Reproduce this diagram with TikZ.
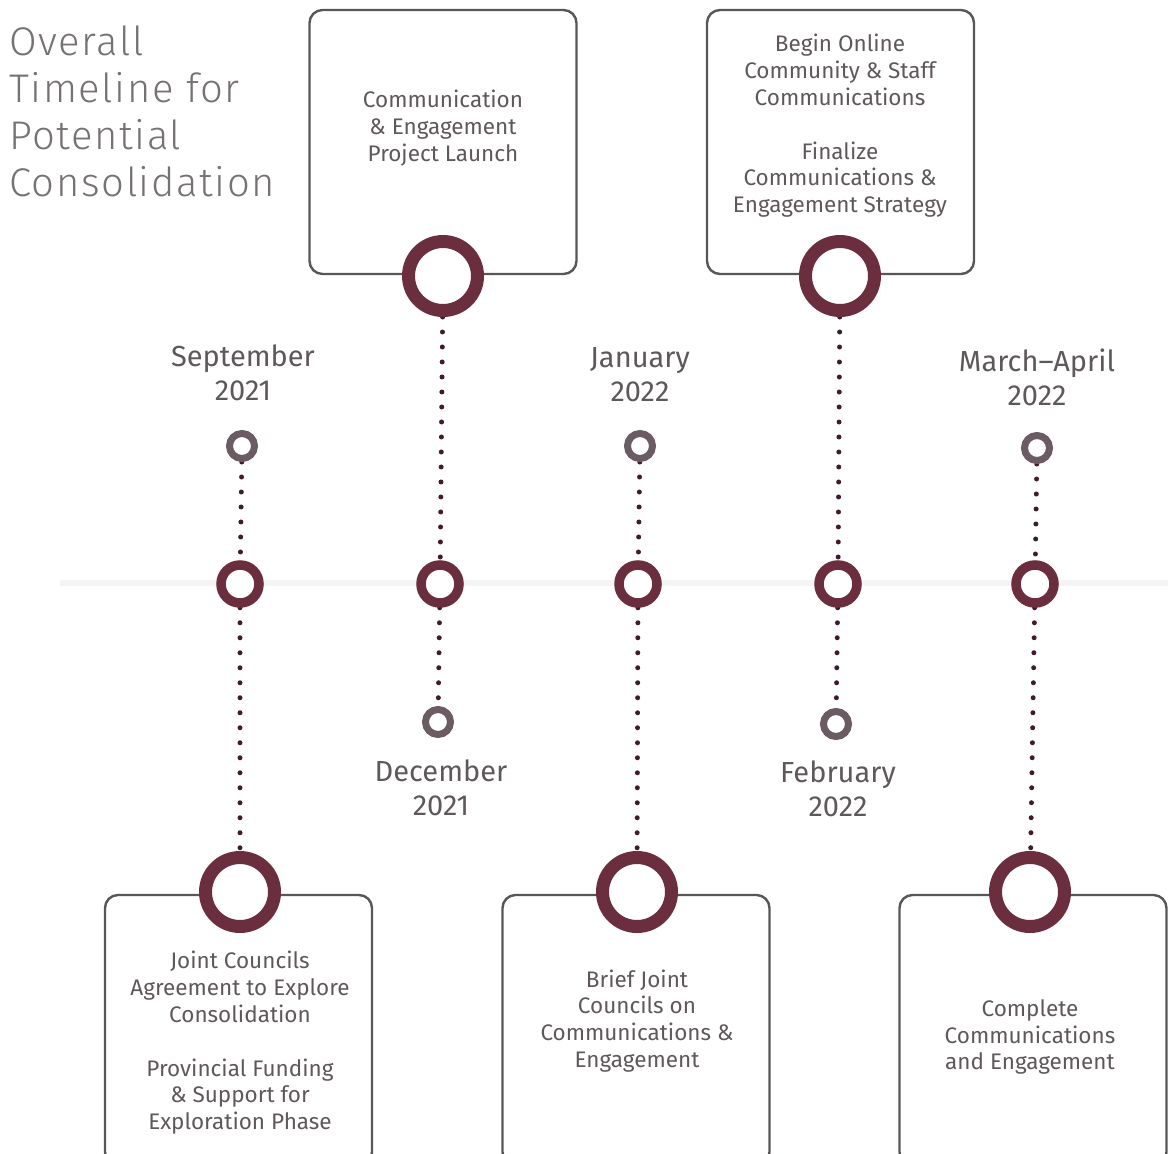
\documentclass[tikz,border=0pt]{standalone}
\usepackage{fontspec}
\setmainfont{Fira Sans}
\newfontfamily\titlefont{Fira Sans Light}[LetterSpace=4]
\usetikzlibrary{backgrounds}
\definecolor{maroon}{HTML}{6A2E3E}
\definecolor{mauve}{HTML}{6B5C63}
\definecolor{txt}{HTML}{5E585B}
\definecolor{frame}{HTML}{5A5657}
\begin{document}
\begin{tikzpicture}[x=1pt,y=-1pt,
  box/.style={draw=frame,line width=2.4pt,rounded corners=13pt,minimum width=267pt,minimum height=264pt,inner sep=0pt,fill=none},
  bigring/.style={circle,draw=maroon,fill=white,line width=13pt,minimum size=69pt,inner sep=0pt},
  midring/.style={circle,draw=maroon,fill=white,line width=9.5pt,minimum size=38pt,inner sep=0pt},
  smallring/.style={circle,draw=mauve,fill=white,line width=7pt,minimum size=25pt,inner sep=0pt},
  dots/.style={draw=maroon!60!black,line width=5pt,line cap=round,dash pattern=on 0pt off 15pt},
  boxtext/.style={text=txt,align=center,font=\fontsize{22.5}{26.8}\selectfont,inner sep=0pt},
  datetext/.style={text=txt,align=center,font=\fontsize{29}{34}\selectfont,inner sep=0pt},
  titletext/.style={text=txt!85,align=left,font=\titlefont\fontsize{40}{47}\selectfont,inner sep=0pt,anchor=north west}
]
\useasboundingbox (0,0) rectangle (1168,1154);
\clip (0,0) rectangle (1168,1154);

% title
\node[titletext] (title) at (9,26) {Overall\\Timeline for\\Potential\\Consolidation};

% boxes
\node[box] (b1) at (443,142) {};
\node[box] (b2) at (840.5,142) {};
\node[box,minimum height=270pt] (bA) at (238.5,1030) {};
\node[box,minimum height=270pt] (bB) at (636,1030) {};
\node[box,minimum height=270pt] (bC) at (1033,1030) {};

% box texts
\node[boxtext] (t1) at (443,128) {Communication\\\& Engagement\\Project Launch};
\node[boxtext] (t2) at (840,126) {Begin Online\\Community \& Staff\\Communications\\[26.8pt]Finalize\\Communications \&\\Engagement Strategy};
\node[boxtext] (tA) at (240,1043) {Joint Councils\\Agreement to Explore\\Consolidation\\[26.8pt]Provincial Funding\\\& Support for\\Exploration Phase};
\node[boxtext] (tB) at (637,1021) {Brief Joint\\Councils on\\Communications \&\\Engagement};
\node[boxtext] (tC) at (1030,1037) {Complete\\Communications\\and Engagement};

% big rings
\node[bigring] (r1) at (443,276) {};
\node[bigring] (r2) at (840,276) {};
\node[bigring] (rA) at (240,892) {};
\node[bigring] (rB) at (637,892) {};
\node[bigring] (rC) at (1030,892) {};

% middle rings
\node[midring] (m1) at (240,584) {};
\node[midring] (m2) at (440,584) {};
\node[midring] (m3) at (638,584) {};
\node[midring] (m4) at (838,584) {};
\node[midring] (m5) at (1035,584) {};

% small rings
\node[smallring] (sSep) at (242,446) {};
\node[smallring] (sJan) at (640,446) {};
\node[smallring] (sMar) at (1037,448) {};
\node[smallring] (sDec) at (438,722) {};
\node[smallring] (sFeb) at (836,724) {};

% date labels
\node[datetext] (lSep) at (243,373) {September\\2021};
\node[datetext] (lJan) at (640,375) {January\\2022};
\node[datetext] (lMar) at (1037,377) {March–April\\2022};
\node[datetext] (lDec) at (441,788) {December\\2021};
\node[datetext] (lFeb) at (838,789) {February\\2022};

% faint axis and dotted connectors
\begin{scope}[on background layer]
\draw[line width=6pt,gray!9] (60,583) -- (1168,583);
\draw[dots] (sSep) -- (m1);
\draw[dots] (m1) -- (rA);
\draw[dots] (r1) -- (m2);
\draw[dots] (m2) -- (sDec);
\draw[dots] (sJan) -- (m3);
\draw[dots] (m3) -- (rB);
\draw[dots] (r2) -- (m4);
\draw[dots] (m4) -- (sFeb);
\draw[dots] (sMar) -- (m5);
\draw[dots] (m5) -- (rC);
\end{scope}
\end{tikzpicture}
\end{document}
